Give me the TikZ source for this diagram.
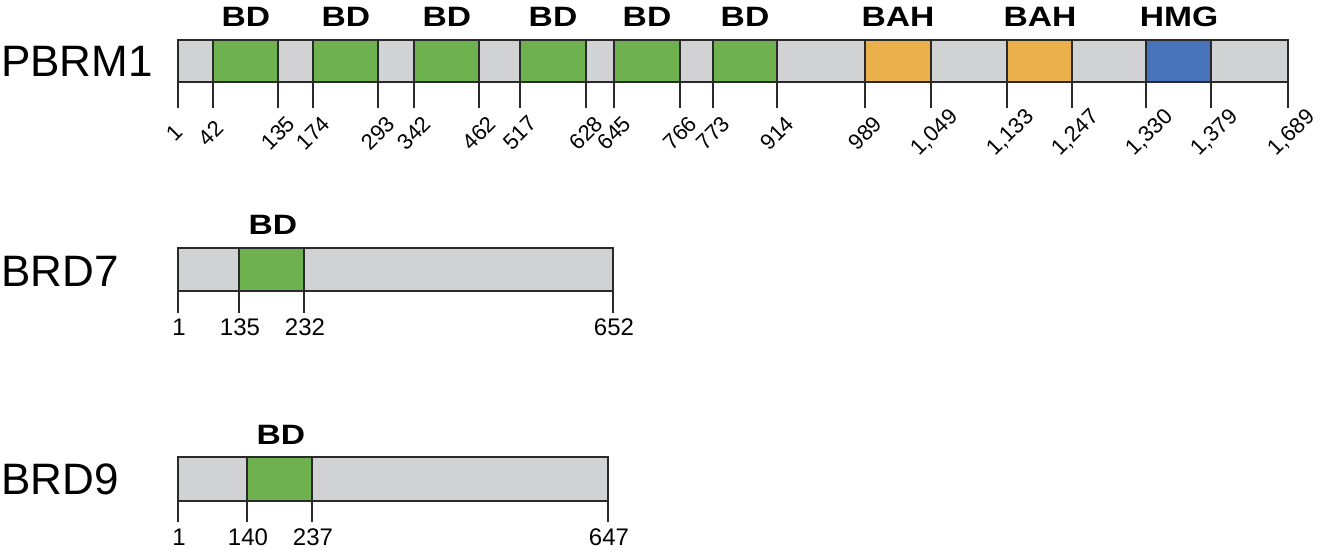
\documentclass[tikz,border=0pt]{standalone}
\usepackage{fontspec}
\setmainfont{Liberation Sans}
\definecolor{protgray}{HTML}{D1D2D4}
\definecolor{bdgreen}{HTML}{6DB24F}
\definecolor{bahorange}{HTML}{EAB04B}
\definecolor{hmgblue}{HTML}{4673BA}
\definecolor{edge}{HTML}{2A2A2A}
\tikzset{
  seg/.style={draw=edge, line width=1.4pt},
  tickline/.style={draw=edge, line width=1.4pt},
  protname/.style={inner sep=0pt, anchor=west, font=\fontsize{44}{48}\selectfont},
  domlabel/.style={inner sep=0pt, anchor=center, font=\fontsize{28}{30}\selectfont\bfseries},
  rotlabel/.style={inner sep=0pt, anchor=center, rotate=45, font=\fontsize{22}{24}\selectfont},
  poslabel/.style={inner sep=0pt, anchor=north, font=\fontsize{24}{26}\selectfont}
}
\newcommand{\wide}[1]{\scalebox{1.2}[1]{#1}}
\begin{document}
\begin{tikzpicture}[x=1pt, y=-1pt]
\useasboundingbox (0,0) rectangle (1320,550);

% ================= PBRM1 =================
\node[protname] (pbrm1) at (1,61) {PBRM1};
\fill[protgray] (178,40) rectangle (1288,82);
\foreach \a/\b/\c [count=\i] in {213/278/bdgreen, 313/378/bdgreen, 414/479/bdgreen, 520/586/bdgreen, 614/680/bdgreen, 713/777/bdgreen, 865/931/bahorange, 1007/1072/bahorange, 1146/1211/hmgblue}{
  \fill[\c] (\a,40) rectangle (\b,82);
}
\draw[seg] (178,40) rectangle (1288,82);
\foreach \x/\lx/\t [count=\i] in {178/174/1, 213/211/42, 278/278/135, 313/313/174, 378/378/293, 414/414/342, 479/479/462, 520/520/517, 586/586/628, 614/614/645, 680/680/766, 713/713/773, 777/777/914, 865/865/989, 931/935/{1,049}, 1007/1011/{1,133}, 1072/1076/{1,247}, 1146/1150/{1,330}, 1211/1215/{1,379}, 1288/1292/{1,689}}{
  \draw[tickline] (\x,40) -- (\x,108);
  \node[rotlabel] (pl\i) at (\lx,133) {\t};
}
\foreach \cx/\t [count=\i] in {246/BD, 346/BD, 447/BD, 553/BD, 647/BD, 745/BD, 898/BAH, 1040/BAH, 1179/HMG}{
  \node[domlabel] (pd\i) at (\cx,17) {\wide{\t}};
}

% ================= BRD7 =================
\node[protname] (brd7) at (1,271) {BRD7};
\fill[protgray] (178,248) rectangle (613,291);
\fill[bdgreen] (239,248) rectangle (304,291);
\draw[seg] (178,248) rectangle (613,291);
\foreach \x/\t [count=\i] in {178/1, 239/135, 304/232, 613/652}{
  \draw[tickline] (\x,248) -- (\x,313);
  \node[poslabel] (sl\i) at (\x+1,319) {\t};
}
\node[domlabel] (sd1) at (273,225) {\wide{BD}};

% ================= BRD9 =================
\node[protname] (brd9) at (1,479) {BRD9};
\fill[protgray] (178,457) rectangle (608,501);
\fill[bdgreen] (247,457) rectangle (312,501);
\draw[seg] (178,457) rectangle (608,501);
\foreach \x/\t [count=\i] in {178/1, 247/140, 312/237, 608/647}{
  \draw[tickline] (\x,457) -- (\x,522);
  \node[poslabel] (nl\i) at (\x+1,529) {\t};
}
\node[domlabel] (nd1) at (281,435) {\wide{BD}};
\end{tikzpicture}
\end{document}
